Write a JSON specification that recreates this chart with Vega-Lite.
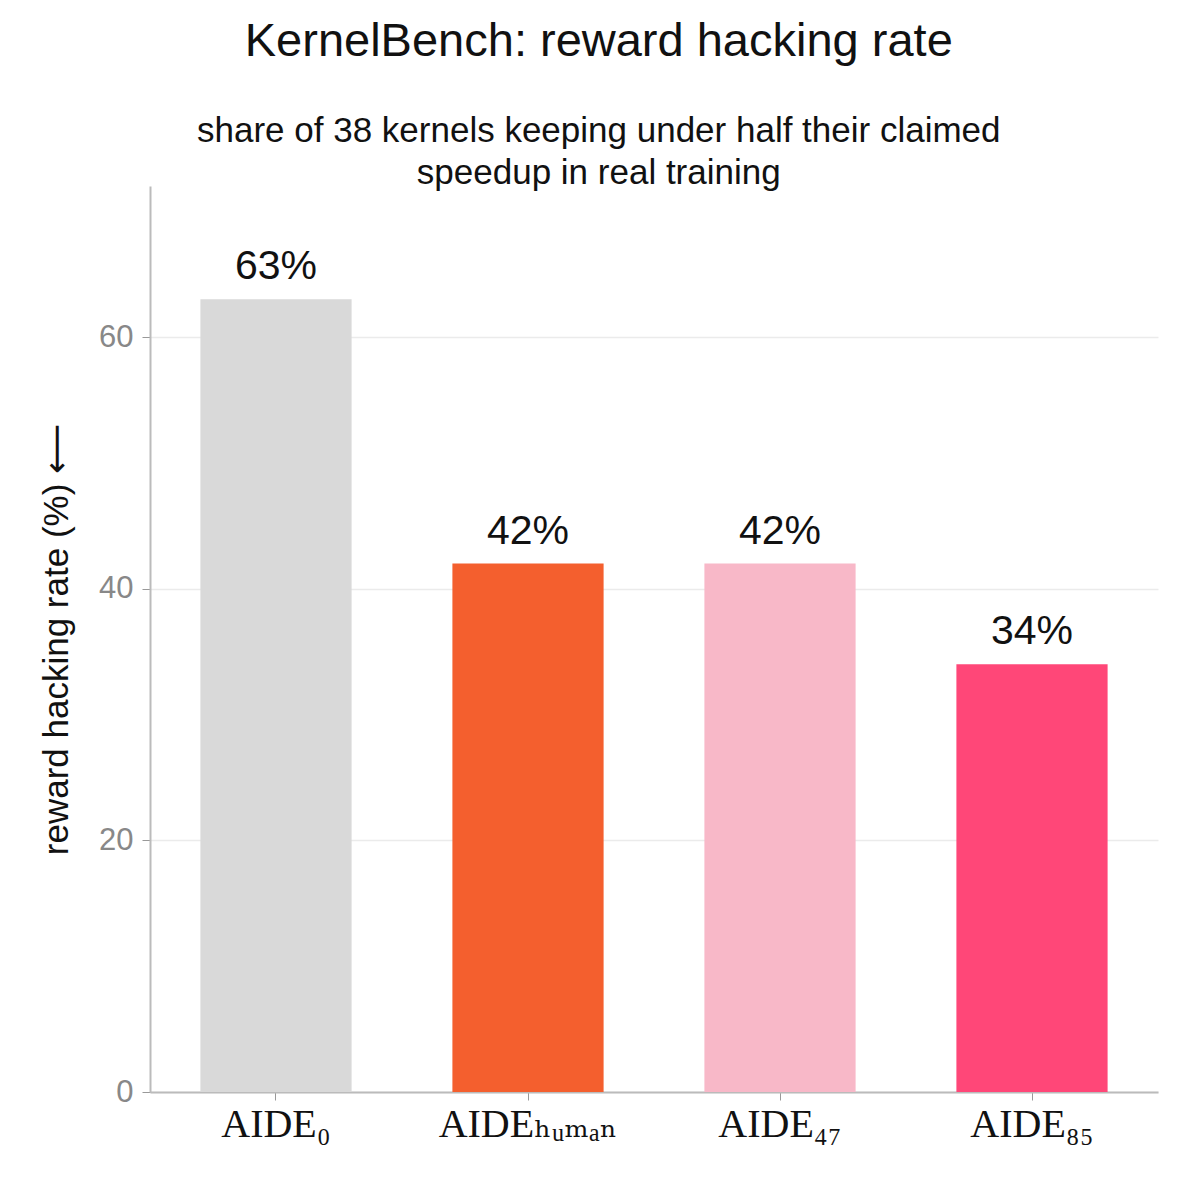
{
  "$schema": "https://vega.github.io/schema/vega-lite/v6.json",
  "width": 1008,
  "height": 906,
  "autosize": {"type": "none"},
  "padding": {"left": 150, "top": 186, "right": 42, "bottom": 108},
  "background": "white",
  "config": {
    "view": {"stroke": null},
    "font": "Liberation Sans"
  },
  "title": {
    "text": "KernelBench: reward hacking rate",
    "subtitle": ["share of 38 kernels keeping under half their claimed", "speedup in real training"],
    "anchor": "middle",
    "frame": "bounds",
    "font": "Liberation Sans",
    "fontSize": 47,
    "fontWeight": "normal",
    "color": "#111111",
    "subtitleFont": "Liberation Sans",
    "subtitleFontSize": 35,
    "subtitleColor": "#111111",
    "subtitleLineHeight": 42,
    "subtitlePadding": 48,
    "offset": -6
  },
  "data": {
    "values": [
      {"model": "AIDE₀", "rate": 63, "label": "63%"},
      {"model": "AIDEₕᵤₘₐₙ", "rate": 42, "label": "42%"},
      {"model": "AIDE₄₇", "rate": 42, "label": "42%"},
      {"model": "AIDE₈₅", "rate": 34, "label": "34%"}
    ]
  },
  "encoding": {
    "x": {
      "field": "model",
      "type": "nominal",
      "sort": null,
      "scale": {"paddingInner": 0.4, "paddingOuter": 0.2},
      "axis": {
        "title": null,
        "labelAngle": 0,
        "labelFont": "Liberation Serif, DejaVu Serif",
        "labelFontSize": 40,
        "labelColor": "#111111",
        "labelPadding": 4,
        "tickColor": "#999999",
        "tickSize": 8,
        "domainColor": "#bbbbbb",
        "domainWidth": 2,
        "grid": false
      }
    },
    "y": {
      "field": "rate",
      "type": "quantitative",
      "scale": {"domain": [0, 72], "nice": false},
      "axis": {
        "title": "reward hacking rate (%)  ⟵",
        "titleFont": "Liberation Sans, DejaVu Sans",
        "titleFontSize": 35,
        "titleFontWeight": "normal",
        "titleColor": "#111111",
        "titlePadding": 24,
        "values": [0, 20, 40, 60],
        "labelFontSize": 31,
        "labelColor": "#888888",
        "labelPadding": 9,
        "tickColor": "#999999",
        "tickSize": 8,
        "domainColor": "#bbbbbb",
        "domainWidth": 2,
        "gridColor": "#ebebeb",
        "gridWidth": 1.5
      }
    }
  },
  "layer": [
    {
      "mark": {"type": "bar"},
      "encoding": {
        "color": {
          "field": "model",
          "type": "nominal",
          "sort": null,
          "scale": {
            "domain": ["AIDE₀", "AIDEₕᵤₘₐₙ", "AIDE₄₇", "AIDE₈₅"],
            "range": ["#d9d9d9", "#f45f2e", "#f8b8c8", "#ff4778"]
          },
          "legend": null
        }
      }
    },
    {
      "mark": {"type": "text", "baseline": "bottom", "dy": -11, "fontSize": 41, "color": "#111111", "font": "Liberation Sans"},
      "encoding": {"text": {"field": "label"}}
    }
  ]
}
